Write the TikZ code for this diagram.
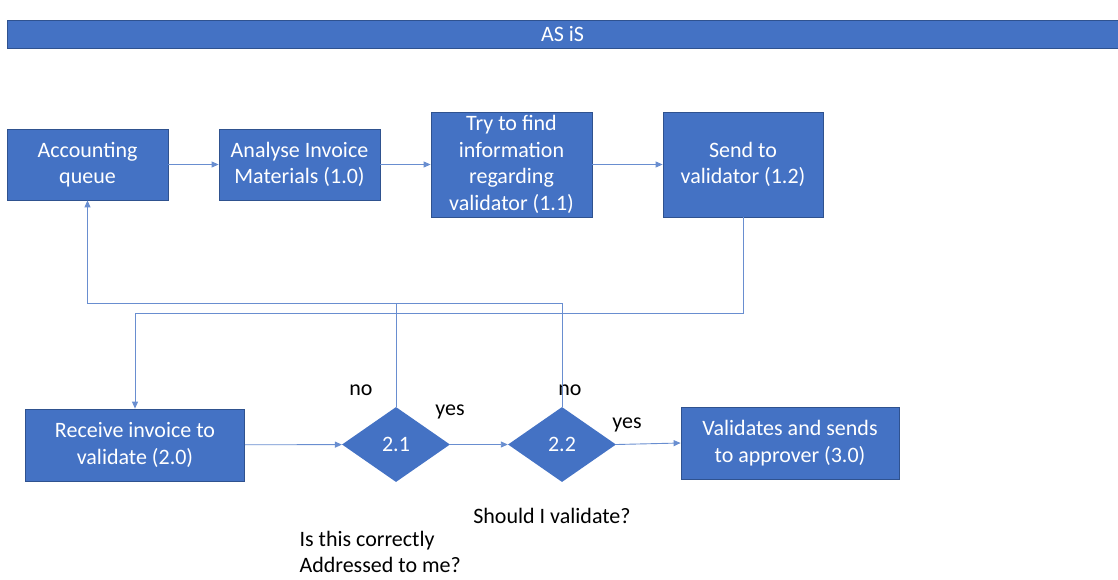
\documentclass[tikz,border=0pt]{standalone}
\usepackage{fontspec}
\setmainfont{Carlito}
\usetikzlibrary{arrows.meta,shapes.geometric}
\definecolor{boxblue}{HTML}{4472C4}
\definecolor{edgeblue}{HTML}{2F528F}
\tikzset{
  proc/.style={draw=edgeblue, fill=boxblue, text=white, line width=0.8pt,
    align=center, inner sep=2pt, font=\fontsize{22}{26.5}\selectfont},
  decision/.style={diamond, fill=boxblue, text=white, inner sep=0pt, aspect=1.44,
    minimum width=108pt, minimum height=75pt, font=\fontsize{22}{26}\selectfont},
  flow/.style={draw=boxblue!80, line width=0.9pt},
  arr/.style={flow, -{Triangle[length=7pt,width=6pt]}},
  note/.style={font=\fontsize{22}{26}\selectfont}
}
\begin{document}
\begin{tikzpicture}[x=1pt, y=-1pt]
  \useasboundingbox (0,0) rectangle (1118,579);

  % Title bar
  \node[proc, minimum width=1111pt, minimum height=28pt] (title) at (562.5,34) {AS iS};

  % First row
  \node[proc, minimum width=161pt, minimum height=71pt] (acq) at (87.5,164.5) {Accounting\\queue};
  \node[proc, minimum width=161pt, minimum height=71pt] (ana) at (299.5,164.5) {Analyse Invoice\\Materials (1.0)};
  \node[proc, minimum width=161pt, minimum height=105pt] (find) at (511.5,164.5) {Try to find\\information\\regarding\\validator (1.1)};
  \node[proc, minimum width=160pt, minimum height=105pt] (send) at (743,164.5) {Send to\\validator (1.2)};

  % Second row
  \node[proc, minimum width=219pt, minimum height=72pt] (recv) at (135,445) {Receive invoice to\\validate (2.0)};
  \node[decision] (d21) at (396,444.5) {2.1};
  \node[decision] (d22) at (562,444.5) {2.2};
  \node[proc, minimum width=218pt, minimum height=72pt] (appr) at (790,443) {Validates and sends\\to approver (3.0)};

  % Labels
  \node[note] (no1) at (361,390) {no};
  \node[note] (yes1) at (450,412) {yes};
  \node[note] (no2) at (570,390) {no};
  \node[note] (yes2) at (627,425) {yes};
  \node[note] (q22) at (552,516) {Should I validate?};
  \node[note, align=left, anchor=north west] (q21) at (296,528) {Is this correctly\\Addressed to me?};

  % Connectors
  \draw[arr] (acq) -- (ana);
  \draw[arr] (ana) -- (find);
  \draw[arr] (find) -- (send);
  \draw[arr] (send.south) -- ++(0,96) -| (recv.north);
  \coordinate (back) at (d21.north |- 0,303);
  \draw[flow] (d22.north) |- (back);
  \draw[arr] (d21.north) -- (back) -| (acq.south);
  \draw[arr] (recv) -- (d21);
  \draw[arr] (d21) -- (d22);
  \draw[arr] (d22.east) -- (appr.west);
\end{tikzpicture}
\end{document}
